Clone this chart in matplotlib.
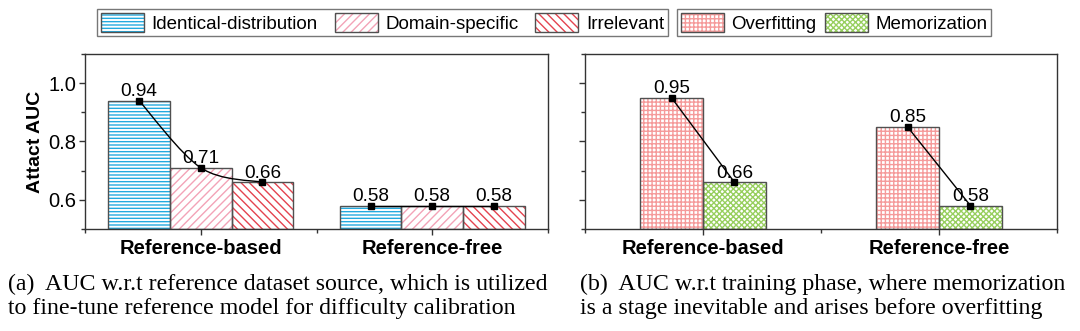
import matplotlib
matplotlib.use("Agg")
import matplotlib.pyplot as plt
from matplotlib.patches import Patch, PathPatch
from matplotlib.path import Path
from matplotlib.ticker import MultipleLocator, FixedLocator

plt.rcParams['font.family'] = ['Liberation Sans', 'DejaVu Sans']
plt.rcParams['hatch.linewidth'] = 1.0

# data
groups = ["Reference-based", "Reference-free"]
source_names = ["Identical-distribution", "Domain-specific", "Irrelevant"]
source_auc = [[0.94, 0.71, 0.66], [0.58, 0.58, 0.58]]
phase_names = ["Overfitting", "Memorization"]
phase_auc = [[0.95, 0.66], [0.85, 0.58]]
caption_a = "(a)  AUC w.r.t reference dataset source, which is utilized\nto fine-tune reference model for difficulty calibration"
caption_b = "(b)  AUC w.r.t training phase, where memorization\nis a stage inevitable and arises before overfitting"

source_style = [("#22AADF", "-----"), ("#F3A3B7", "////"), ("#E4434F", "\\\\\\\\")]
phase_style = [("#F59A9A", "++++"), ("#97CF5E", "xxxxxx")]
edge = "#505050"

fig = plt.figure(figsize=(10.8, 3.31), dpi=100)
ax1 = fig.add_axes([85 / 1080, 0.3082, 463 / 1080, 0.5287])
ax2 = fig.add_axes([585 / 1080, 0.3082, 472 / 1080, 0.5287])


def hatched_bar(ax, x, h, w, color, hatch):
    ax.bar(x, h - 0.5, w, bottom=0.5, facecolor="white", edgecolor=color,
           linewidth=0, hatch=hatch, zorder=2)
    ax.bar(x, h - 0.5, w, bottom=0.5, fill=False, edgecolor=edge,
           linewidth=1.0, zorder=3)


def smooth_line(ax, xs, ys):
    pts = list(zip(xs, ys))
    ext = [pts[0]] + pts + [pts[-1]]
    verts = [pts[0]]
    codes = [Path.MOVETO]
    for i in range(1, len(ext) - 2):
        p0, p1, p2, p3 = ext[i - 1], ext[i], ext[i + 1], ext[i + 2]
        c1 = (p1[0] + (p2[0] - p0[0]) / 6, p1[1] + (p2[1] - p0[1]) / 6)
        c2 = (p2[0] - (p3[0] - p1[0]) / 6, p2[1] - (p3[1] - p1[1]) / 6)
        verts += [c1, c2, p2]
        codes += [Path.CURVE4] * 3
    ax.add_patch(PathPatch(Path(verts, codes), fill=False, edgecolor="black",
                           linewidth=1.0, zorder=4))


def label(ax, x, v):
    ax.annotate(f"{v:.2f}", (x, v), xytext=(0, 0.5), textcoords="offset points",
                ha="center", va="bottom", fontsize=13.7, zorder=6)


w = 0.8 / 3
for gi, vals in enumerate(source_auc):
    xs = [gi + 1 + (k - 1) * w for k in range(3)]
    for k, v in enumerate(vals):
        hatched_bar(ax1, xs[k], v, w, *source_style[k])
        label(ax1, xs[k], v)
    if gi == 0:
        smooth_line(ax1, xs, vals)
    else:
        ax1.plot(xs, vals, color="black", linewidth=1.0, zorder=4)
    ax1.plot(xs, vals, linestyle="none", marker="s", markersize=5,
             color="black", zorder=5)

for gi, vals in enumerate(phase_auc):
    xs = [gi + 1 + (k - 0.5) * w for k in range(2)]
    for k, v in enumerate(vals):
        hatched_bar(ax2, xs[k], v, w, *phase_style[k])
        label(ax2, xs[k], v)
    ax2.plot(xs, vals, color="black", linewidth=1.0, marker="s",
             markersize=5, zorder=5)

for ax in (ax1, ax2):
    ax.set_xlim(0.5, 2.5)
    ax.set_ylim(0.5, 1.1)
    ax.set_xticks([1, 2])
    ax.set_xticklabels(groups, fontsize=15.8, fontweight="bold")
    ax.xaxis.set_minor_locator(FixedLocator([0.5, 1.5, 2.5]))
    ax.set_yticks([0.6, 0.8, 1.0])
    ax.yaxis.set_minor_locator(MultipleLocator(0.1))
    ax.tick_params(axis="both", which="major", direction="out", length=4,
                   width=1, labelsize=14.5, color="#333333")
    ax.tick_params(axis="both", which="minor", direction="out", length=3,
                   width=1, color="#333333")
    ax.tick_params(axis="x", which="major", pad=3)
    ax.tick_params(axis="y", which="major", pad=2)
    for s in ax.spines.values():
        s.set_color("#333333")
        s.set_linewidth(1.0)

ax1.set_yticklabels(["0.6", "0.8", "1.0"])
ax2.set_yticklabels([])
ax1.set_ylabel("Attact AUC", fontsize=14, fontweight="bold", labelpad=3)


def handle(color, hatch):
    return (Patch(facecolor="white", edgecolor=color, linewidth=0, hatch=hatch),
            Patch(fill=False, edgecolor=edge, linewidth=1.0))


leg_kw = dict(loc="upper left", frameon=True, fancybox=False, fontsize=13.5,
              handlelength=2.3, handleheight=1.2, handletextpad=0.4,
              borderpad=0.2, borderaxespad=0)
leg1 = fig.legend([handle(*s) for s in source_style], source_names, ncol=3,
                  columnspacing=0.9, bbox_to_anchor=(97 / 1080, 1 - 9 / 331),
                  **leg_kw)
leg2 = fig.legend([handle(*s) for s in phase_style], phase_names, ncol=2,
                  columnspacing=0.45, bbox_to_anchor=(677 / 1080, 1 - 9 / 331),
                  **leg_kw)
for leg in (leg1, leg2):
    leg.get_frame().set_edgecolor("#555555")
    leg.get_frame().set_linewidth(1.0)

fig.text(8 / 1080, 1 - 274 / 331, caption_a, family="Liberation Serif",
         fontsize=17.2, va="top", ha="left", linespacing=1.15)
fig.text(580 / 1080, 1 - 274 / 331, caption_b, family="Liberation Serif",
         fontsize=17.2, va="top", ha="left", linespacing=1.15)

fig.savefig("out.png", dpi=100)
